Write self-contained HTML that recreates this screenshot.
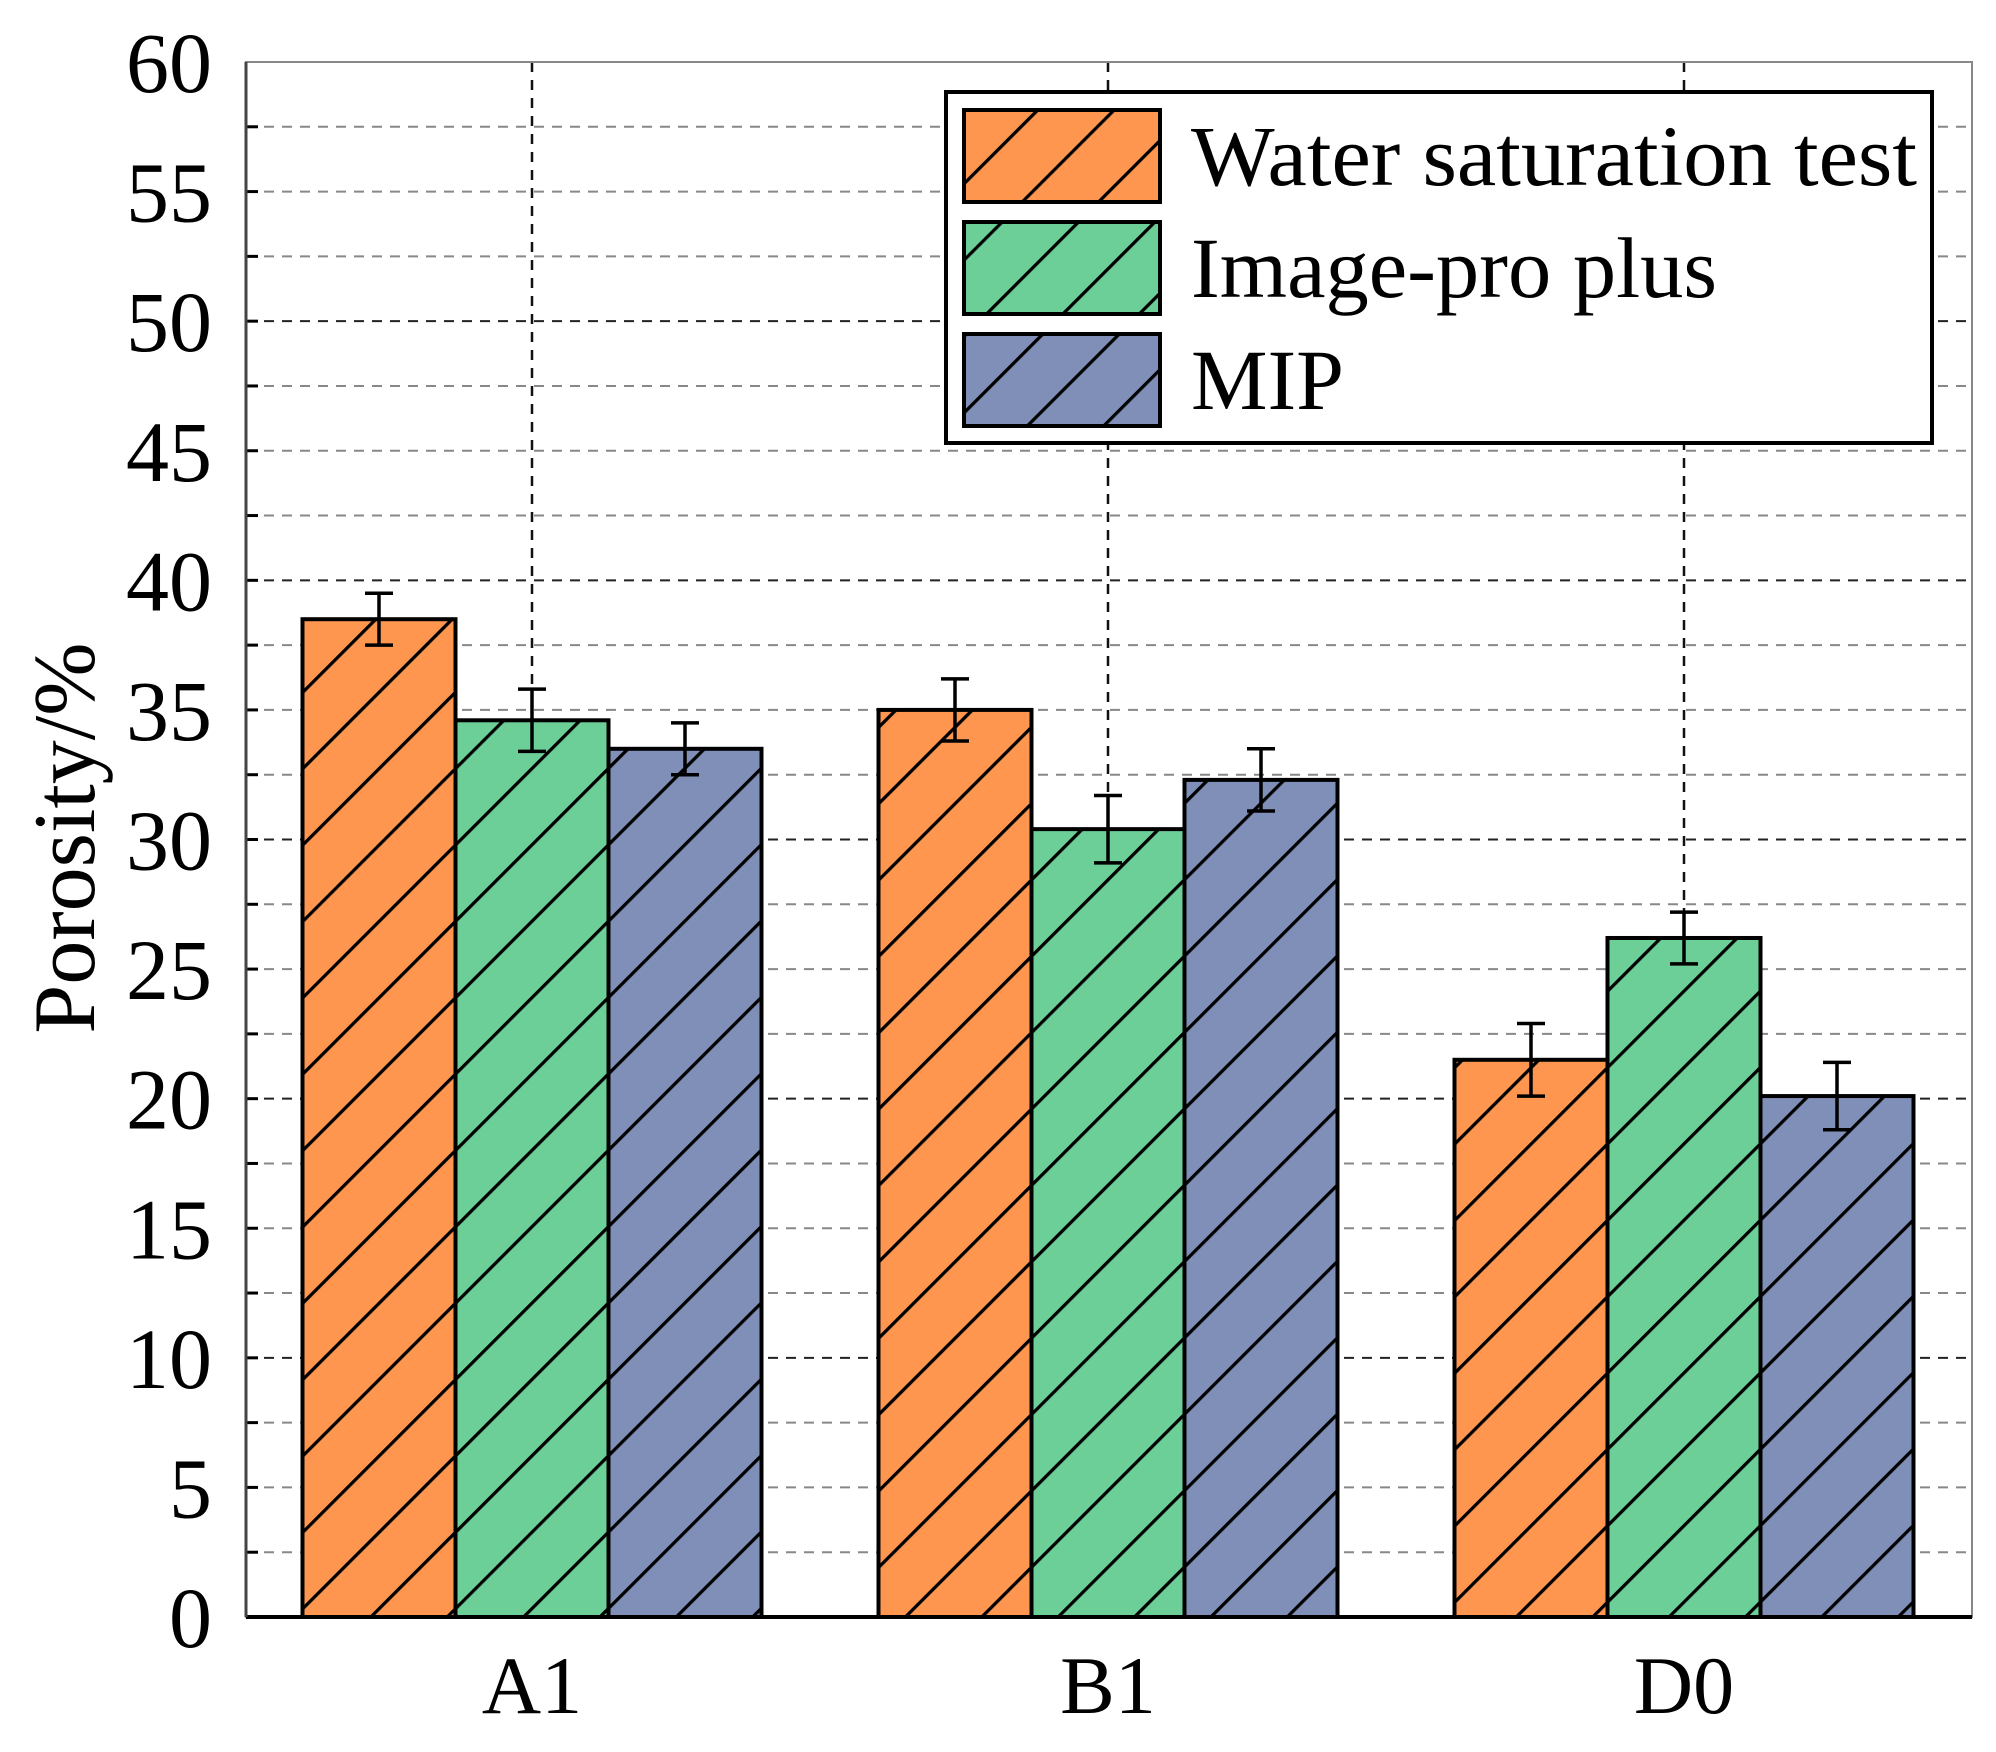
<!DOCTYPE html>
<html><head><meta charset="utf-8"><style>
html,body{margin:0;padding:0;background:#fff;}
svg{display:block;font-family:"Liberation Serif","Times New Roman",serif;}
</style></head><body>
<svg id="chart" width="1996" height="1752" viewBox="0 0 1996 1752" xmlns="http://www.w3.org/2000/svg">
<defs>
<pattern id="hatch" patternUnits="userSpaceOnUse" width="54" height="54" patternTransform="rotate(45)">
<line x1="0" y1="0" x2="0" y2="54" stroke="#000" stroke-width="6.5"/>
</pattern>
</defs>
<g id="grid"></g>
<g id="bars"></g>
<g id="axes"></g>
<g id="legend"></g>
</svg>
<script>
const categories = ["A1", "B1", "D0"];
const seriesNames = ["Water saturation test", "Image-pro plus", "MIP"];
const waterValues = [38.5, 35.0, 21.5];
const imageProValues = [34.6, 30.4, 26.2];
const mipValues = [33.5, 32.3, 20.1];
const waterErrors = [1.0, 1.2, 1.4];
const imageProErrors = [1.2, 1.3, 1.0];
const mipErrors = [1.0, 1.2, 1.3];
const yTicks = [0, 5, 10, 15, 20, 25, 30, 35, 40, 45, 50, 55, 60];
const colors = ["#FF9650", "#6DCF98", "#7F8FB8"];

const NS = "http://www.w3.org/2000/svg";
const L = 246, R = 1972, T = 62, B = 1617;
const yMax = 60;
const y = v => B - (v / yMax) * (B - T);
const catCenter = i => 532 + i * 576;
const barW = 153;
function mk(tag, attrs, parent) {
  const e = document.createElementNS(NS, tag);
  for (const k in attrs) e.setAttribute(k, attrs[k]);
  parent.appendChild(e);
  return e;
}
const grid = document.getElementById('grid');
const bars = document.getElementById('bars');
const axes = document.getElementById('axes');
const legend = document.getElementById('legend');

for (let v = 2.5; v < yMax; v += 2.5) {
  const major = Math.abs(v % 10) < 1e-6;
  const g = mk('line', {x1: L, x2: R, y1: y(v), y2: y(v), stroke: major ? '#222' : '#888', 'stroke-width': 2, 'stroke-dasharray': '10,8'}, grid);
  
  
  const t = mk('line', {x1: L, x2: L + 12, y1: y(v), y2: y(v), stroke: '#000', 'stroke-width': 3}, grid);
  
  
}
categories.forEach((c, i) => {
  const g = mk('line', {x1: catCenter(i), x2: catCenter(i), y1: T, y2: B, stroke: '#111', 'stroke-width': 2.5, 'stroke-dasharray': '10,8'}, grid);
  
  
});

const allVals = [waterValues, imageProValues, mipValues];
const allErrs = [waterErrors, imageProErrors, mipErrors];
categories.forEach((c, i) => {
  allVals.forEach((vals, s) => {
    const x0 = catCenter(i) - 1.5 * barW + s * barW;
    const r = mk('rect', {x: x0, y: y(vals[i]), width: barW, height: B - y(vals[i]), fill: colors[s], stroke: 'none'}, bars);
    
    
    const h = mk('rect', {x: x0, y: y(vals[i]), width: barW, height: B - y(vals[i]), fill: 'url(#hatch)', stroke: '#000', 'stroke-width': 4}, bars);
    
    
    const cx = x0 + barW / 2, e = allErrs[s][i];
    const eg = mk('g', {stroke: '#000', 'stroke-width': 3.5}, bars);
    
    
    mk('line', {x1: cx, x2: cx, y1: y(vals[i] + e), y2: y(vals[i] - e)}, eg);
    mk('line', {x1: cx - 14, x2: cx + 14, y1: y(vals[i] + e), y2: y(vals[i] + e)}, eg);
    mk('line', {x1: cx - 14, x2: cx + 14, y1: y(vals[i] - e), y2: y(vals[i] - e)}, eg);
  });
  const t = mk('text', {x: catCenter(i), y: 1713, 'font-size': 82, 'text-anchor': 'middle', fill: '#000'}, axes);
  t.textContent = c;
  
  
});

const fr = mk('rect', {x: L, y: T, width: R - L, height: B - T, fill: 'none', stroke: '#888', 'stroke-width': 2}, axes);


const xa = mk('line', {x1: L, x2: R, y1: B, y2: B, stroke: '#000', 'stroke-width': 4}, axes);


const ya = mk('line', {x1: L, x2: L, y1: T, y2: B, stroke: '#444', 'stroke-width': 3}, axes);


yTicks.forEach(v => {
  const t = mk('text', {x: 212, y: y(v) + 30, 'font-size': 86, 'text-anchor': 'end', fill: '#000'}, axes);
  t.textContent = v;
  
  
});
const yt = mk('text', {x: 0, y: 0, 'font-size': 88, 'text-anchor': 'middle', fill: '#000', transform: 'translate(94,838) rotate(-90)'}, axes);
yt.textContent = 'Porosity/%';



const lb = mk('rect', {x: 946, y: 92, width: 986, height: 351, fill: '#fff', stroke: '#000', 'stroke-width': 4}, legend);


const legendTextWidths = [726, 526, 153];
seriesNames.forEach((n, s) => {
  const yy = 110 + s * 112;
  const g = mk('g', {}, legend);
  
  
  mk('rect', {x: 964, y: yy, width: 196, height: 92, fill: colors[s]}, g);
  mk('rect', {x: 964, y: yy, width: 196, height: 92, fill: 'url(#hatch)', stroke: '#000', 'stroke-width': 4}, g);
  const t = mk('text', {x: 1191, y: yy + 75, 'font-size': 86, fill: '#000', textLength: legendTextWidths[s], lengthAdjust: 'spacingAndGlyphs'}, g);
  t.textContent = n;
});
</script>
</body></html>
